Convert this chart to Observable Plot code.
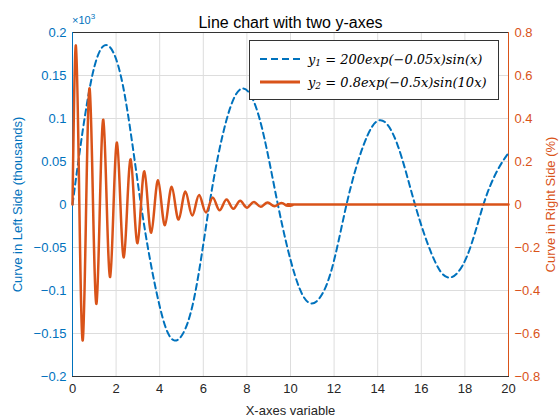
<!DOCTYPE html>
<html><head><meta charset="utf-8">
<script src="https://cdn.jsdelivr.net/npm/d3@7"></script>
<script src="https://cdn.jsdelivr.net/npm/@observablehq/plot@0.6"></script>
<style>
body{margin:0;background:#fff;font-family:"Liberation Sans",Arial,sans-serif}
#wrap{position:relative;width:560px;height:420px}
#legend{position:absolute;left:249px;top:40px;width:250px;height:60px;border:1px solid #333;background:#fff;box-sizing:border-box;font-family:"DejaVu Serif",serif;font-style:italic;font-size:13px}
.row{position:absolute;left:8px;height:20px;display:flex;align-items:center}
.row svg{margin-right:6px}
.s{font-size:9px;position:relative;top:4px}
#exp{position:absolute;left:72px;top:12px;font-size:11px;color:#0072BD}
</style></head><body>
<div id="wrap"><div id="exp">×10<sup style="font-size:8px">3</sup></div>
<div id="legend">
<div class="row" style="top:8px"><svg width="44" height="6"><line x1="2" y1="3" x2="42" y2="3" stroke="#0072BD" stroke-width="2" stroke-dasharray="7,4"/></svg>y<span class="s">1</span>&nbsp;= 200exp(−0.05x)sin(x)</div>
<div class="row" style="top:31px"><svg width="44" height="6"><line x1="2" y1="3" x2="42" y2="3" stroke="#D95319" stroke-width="3"/></svg>y<span class="s">2</span>&nbsp;= 0.8exp(−0.5x)sin(10x)</div>
</div></div>
<script>
// y1 (thousands): zeros and extrema
const y1X = [0,0.75,1.47,2.3,3.14,3.95,4.66,5.5,6.28,7.05,7.8,8.6,9.42,10.2,10.95,11.8,12.57,13.35,14.1,14.9,15.71,16.5,17.25,18.1,18.85,19.5,20];
const y1Y = [0,0.130,0.185,0.140,0,-0.113,-0.158,-0.118,0,0.097,0.135,0.098,0,-0.082,-0.115,-0.083,0,0.069,0.098,0.070,0,-0.059,-0.085,-0.060,0,0.040,0.060];
// y2 (%): extrema and zero crossings
const y2X = [0,0.157,0.314,0.471,0.628,0.785,0.942,1.100,1.257,1.414,1.571,1.728,1.885,2.042,2.199,2.356,2.513,2.670,2.827,2.985,3.142,3.299,3.456,3.613,3.770,3.927,4.084,4.241,4.398,4.555,4.712,4.869,5.027,5.184,5.341,5.498,5.655,5.812,5.969,6.126,6.283,6.440,6.597,6.754,6.912,7.069,7.226,7.383,7.540,7.697,7.854,8.011,8.168,8.325,8.482,8.639,8.796,8.954,9.111,9.268,9.425,9.582,9.739,9.9,10.05,11,20];
const y2Y = [0,0.74,0,-0.632,0,0.540,0,-0.462,0,0.394,0,-0.337,0,0.288,0,-0.246,0,0.210,0,-0.180,0,0.154,0,-0.131,0,0.112,0,-0.096,0,0.082,0,-0.070,0,0.060,0,-0.051,0,0.044,0,-0.037,0,0.032,0,-0.027,0,0.023,0,-0.020,0,0.017,0,-0.015,0,0.012,0,-0.011,0,0.009,0,-0.008,0,0.007,0,-0.006,0,0,0];
const xTicks = [0,2,4,6,8,10,12,14,16,18,20];
const leftTicks = [-0.2,-0.15,-0.1,-0.05,0,0.05,0.1,0.15,0.2];
const rightTicks = [-0.8,-0.6,-0.4,-0.2,0,0.2,0.4,0.6,0.8];
const blue="#0072BD", orange="#D95319";
const d1 = y1X.map((x,i)=>({x,y:y1Y[i]}));
const d2 = y2X.map((x,i)=>({x,y:y2Y[i]/4}));
const fmt = d3.format("~g");
const chart = Plot.plot({
  width:560,height:420,marginLeft:72,marginRight:52,marginTop:32,marginBottom:44,
  style:{fontFamily:"Liberation Sans, Arial, sans-serif",fontSize:"12px"},
  x:{domain:[0,20]},y:{domain:[-0.2,0.2]},
  marks:[
    Plot.gridX(xTicks,{stroke:"#ddd",strokeOpacity:1}),
    Plot.gridY(leftTicks,{stroke:"#ddd",strokeOpacity:1}),
    Plot.frame({stroke:"#333",anchor:"bottom"}),
    Plot.frame({stroke:"#333",anchor:"top"}),
    Plot.ruleX([0],{stroke:blue}),
    Plot.ruleX([20],{stroke:orange}),
    Plot.axisX({ticks:xTicks,tickSize:0,tickPadding:7,label:"X-axes variable",labelArrow:false,labelAnchor:"center",labelOffset:38,fill:"#262626",fontSize:13}),
    Plot.axisY({ticks:leftTicks,tickFormat:fmt,tickSize:0,tickPadding:6,label:"Curve in Left Side (thousands)",labelAnchor:"center",labelOffset:60,labelArrow:false,color:blue,fontSize:13}),
    Plot.axisY({anchor:"right",ticks:leftTicks,tickFormat:d=>fmt(+(d*4).toFixed(2)),tickSize:0,tickPadding:6,label:"Curve in Right Side (%)",labelAnchor:"center",labelOffset:46,labelArrow:false,color:orange,fontSize:13}),
    Plot.line(d1,{x:"x",y:"y",curve:"natural",stroke:blue,strokeWidth:2,strokeDasharray:"6,4"}),
    Plot.line(d2,{x:"x",y:"y",curve:"natural",stroke:orange,strokeWidth:2.5}),
    Plot.text(["Line chart with two y-axes"],{frameAnchor:"top",dy:-16,fontSize:16,fill:"#000"})
  ]
});
document.getElementById("wrap").prepend(chart);
chart.style.position="absolute";chart.style.left="0";chart.style.top="0";
document.getElementById("exp").style.zIndex=2;
</script></body></html>
